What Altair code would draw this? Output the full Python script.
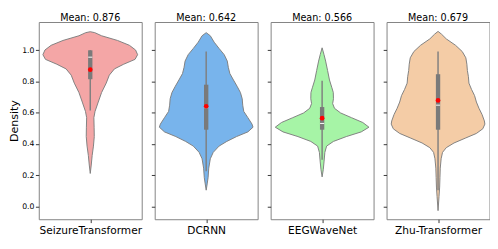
import altair as alt
import pandas as pd

models = ["SeizureTransformer", "DCRNN", "EEGWaveNet", "Zhu-Transformer"]
means = [0.876, 0.642, 0.566, 0.679]
medians = [0.956, 0.633, 0.532, 0.649]
q1 = [0.815, 0.492, 0.492, 0.492]
q3 = [1.0, 0.780, 0.637, 0.847]
whisker_lo = [0.615, 0.226, 0.30, 0.105]
whisker_hi = [1.0, 0.992, 0.806, 0.992]
colors = ["#F4A6A6", "#78B4EC", "#A6F4A6", "#F4CCA6"]

# violin outline profiles: value and half-width (fraction of half panel)
seizure_v = [1.119, 1.113, 1.093, 1.063, 1.032, 1.002, 0.972, 0.942, 0.911, 0.881,
             0.841, 0.790, 0.730, 0.669, 0.609, 0.569, 0.508, 0.448, 0.387, 0.327,
             0.266, 0.212]
seizure_w = [0.0, 0.087, 0.22, 0.53, 0.76, 0.88, 0.92, 0.87, 0.65, 0.47,
             0.37, 0.31, 0.22, 0.155, 0.093, 0.07, 0.075, 0.078, 0.062, 0.037,
             0.019, 0.0]
dcrnn_v = [1.113, 1.093, 1.052, 1.012, 0.972, 0.931, 0.891, 0.851, 0.810, 0.770,
           0.730, 0.690, 0.649, 0.609, 0.569, 0.528, 0.508, 0.478, 0.448, 0.417,
           0.387, 0.347, 0.306, 0.246, 0.185, 0.145, 0.105]
dcrnn_w = [0.0, 0.08, 0.155, 0.25, 0.35, 0.41, 0.43, 0.46, 0.53, 0.60,
           0.665, 0.70, 0.71, 0.73, 0.81, 0.89, 0.91, 0.81, 0.59, 0.40,
           0.25, 0.137, 0.08, 0.05, 0.037, 0.019, 0.0]
eeg_v = [1.016, 0.972, 0.931, 0.871, 0.810, 0.760, 0.730, 0.690, 0.659, 0.629,
         0.599, 0.569, 0.538, 0.508, 0.478, 0.448, 0.417, 0.387, 0.347, 0.286,
         0.236, 0.190]
eeg_w = [0.0, 0.037, 0.068, 0.106, 0.143, 0.19, 0.217, 0.22, 0.205, 0.24,
         0.36, 0.57, 0.79, 0.91, 0.76, 0.47, 0.22, 0.087, 0.053, 0.037,
         0.022, 0.0]
zhu_v = [1.121, 1.103, 1.073, 1.032, 0.992, 0.952, 0.911, 0.871, 0.831, 0.790,
         0.750, 0.710, 0.669, 0.629, 0.589, 0.548, 0.528, 0.498, 0.468, 0.438,
         0.407, 0.377, 0.347, 0.306, 0.246, 0.185, 0.125, 0.065, -0.026]
zhu_w = [0.0, 0.068, 0.16, 0.34, 0.47, 0.54, 0.56, 0.57, 0.59, 0.60,
         0.65, 0.71, 0.745, 0.795, 0.855, 0.90, 0.91, 0.87, 0.745, 0.53,
         0.31, 0.16, 0.087, 0.06, 0.043, 0.037, 0.031, 0.019, 0.0]

profiles = [(seizure_v, seizure_w), (dcrnn_v, dcrnn_w), (eeg_v, eeg_w), (zhu_v, zhu_w)]
y_ticks = [0.0, 0.2, 0.4, 0.6, 0.8, 1.0]

FONT = "DejaVu Sans"
yscale = alt.Scale(domain=[-0.081, 1.181], nice=False, zero=False)
xscale = alt.Scale(domain=[-1, 1], nice=False, zero=False)

panels = []
for i, m in enumerate(models):
    vals, widths = profiles[i]
    vdf = pd.DataFrame({"v": vals, "lo": [-w for w in widths], "hi": widths})
    sdf = pd.DataFrame({
        "mean": [means[i]], "median": [medians[i]], "q1": [q1[i]], "q3": [q3[i]],
        "wlo": [whisker_lo[i]], "whi": [whisker_hi[i]], "zero": [0.0],
        "ml": [-0.04], "mr": [0.04],
    })
    if i == 0:
        yaxis = alt.Axis(values=y_ticks, format=".1f", title="Density", tickSize=3.5,
                         labelPadding=1.5, titlePadding=2, grid=False)
    else:
        yaxis = alt.Axis(values=y_ticks, labels=False, title=None, tickSize=3.5, grid=False)
    xaxis = alt.Axis(values=[0], labels=False, tickSize=3.5, title=m, titlePadding=1.5, grid=False)

    violin = alt.Chart(vdf).mark_area(
        orient="horizontal", color=colors[i], stroke="#7f7f7f", strokeWidth=1, opacity=1
    ).encode(
        y=alt.Y("v:Q", scale=yscale, axis=yaxis),
        x=alt.X("lo:Q", scale=xscale, axis=xaxis),
        x2="hi:Q",
    )
    whisk = alt.Chart(sdf).mark_rule(color="#7f7f7f", strokeWidth=1.5).encode(
        x="zero:Q", y="wlo:Q", y2="whi:Q")
    box = alt.Chart(sdf).mark_rule(color="#7a7a7a", strokeWidth=4.5).encode(
        x="zero:Q", y="q1:Q", y2="q3:Q")
    med = alt.Chart(sdf).mark_rule(color="white", strokeWidth=1).encode(
        x="ml:Q", x2="mr:Q", y="median:Q")
    mean_pt = alt.Chart(sdf).mark_point(filled=True, color="red", size=24, opacity=1).encode(
        x="zero:Q", y="mean:Q")

    panel = alt.layer(violin, whisk, box, med, mean_pt).properties(
        width=107, height=205,
        title=alt.Title(f"Mean: {means[i]:.3f}", fontSize=10, font=FONT,
                        fontWeight="normal", color="black", offset=-0.5),
    )
    panels.append(panel)

chart = alt.hconcat(*panels, spacing=7.5).properties(
    padding={"left": 0, "top": 0, "right": 0, "bottom": 0}
).configure_view(
    stroke="#808080", strokeWidth=1
).configure_axis(
    domain=False, labelFont=FONT, titleFont=FONT, labelFontSize=8,
    titleFontSize=11.5, titleFontWeight="normal", labelColor="black",
    titleColor="black", tickColor="#333333"
).configure_axisX(titleFontSize=11)

chart.save("out.html", embed_options={"renderer": "svg", "actions": False})
